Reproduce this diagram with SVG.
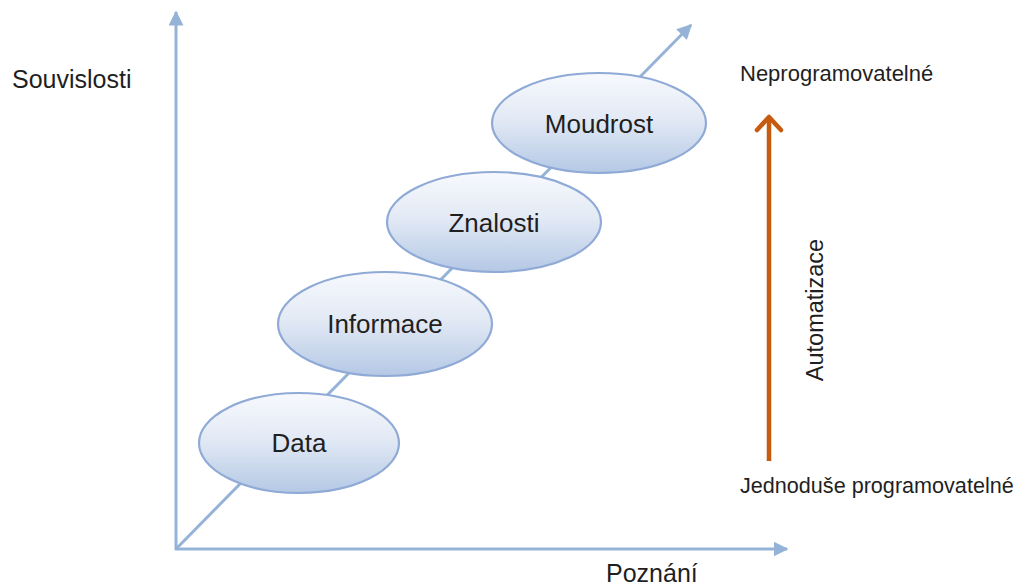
<svg xmlns="http://www.w3.org/2000/svg" width="1018" height="588" viewBox="0 0 1018 588">
<style>
.ax{stroke:#95B3D7;stroke-width:3;fill:none}
.el{fill:url(#g);stroke:#8FAAD6;stroke-width:2.2}
.lb{font-family:"Liberation Sans",Arial,sans-serif;font-size:26px;fill:#1f1f1f;text-anchor:middle}
.tx{font-family:"Liberation Sans",Arial,sans-serif;fill:#1f1f1f}
</style>
<defs>
<linearGradient id="g" x1="0" y1="0" x2="0" y2="1">
<stop offset="0" stop-color="#F7F9FD"/>
<stop offset="0.45" stop-color="#E3EAF5"/>
<stop offset="1" stop-color="#B4C8E5"/>
</linearGradient>
<marker id="ah" viewBox="0 0 10 10" refX="9" refY="5" markerWidth="5" markerHeight="5" markerUnits="strokeWidth" orient="auto">
<path d="M0,0 L10,5 L0,10 z" fill="#95B3D7"/>
</marker>
</defs>
<rect width="1018" height="588" fill="#ffffff"/>
<g id="connectors">
<line class="ax" x1="176" y1="550" x2="176" y2="12" marker-end="url(#ah)"/>
<line class="ax" x1="175" y1="549" x2="787" y2="549" marker-end="url(#ah)"/>
<line class="ax" x1="176" y1="549" x2="691" y2="25" marker-end="url(#ah)"/>
<g id="automatizace-arrow">
<line x1="769" y1="461" x2="769" y2="117" stroke="#C55A11" stroke-width="4.5"/>
<polyline points="757,130 769,117 781,130" fill="none" stroke="#C55A11" stroke-width="4.5" stroke-linecap="round" stroke-linejoin="round"/>
</g>
</g>
<g id="data"><ellipse class="el" cx="299" cy="443" rx="100" ry="50"/><text class="lb" x="299" y="452">Data</text></g>
<g id="informace"><ellipse class="el" cx="385" cy="324" rx="107" ry="52"/><text class="lb" x="385" y="333">Informace</text></g>
<g id="znalosti"><ellipse class="el" cx="494" cy="222" rx="107" ry="50"/><text class="lb" x="494" y="232">Znalosti</text></g>
<g id="moudrost"><ellipse class="el" cx="599" cy="123" rx="107" ry="50"/><text class="lb" x="599" y="133">Moudrost</text></g>
<g id="labels">
<text class="tx" x="12" y="88" font-size="25">Souvislosti</text>
<text class="tx" x="606" y="582" font-size="25">Poznání</text>
<text class="tx" x="740" y="81" font-size="22">Neprogramovatelné</text>
<text class="tx" x="740" y="493" font-size="21.6">Jednoduše programovatelné</text>
<text class="tx" x="0" y="0" font-size="23.5" text-anchor="middle" transform="translate(823,310) rotate(-90)">Automatizace</text>
</g>
</svg>
